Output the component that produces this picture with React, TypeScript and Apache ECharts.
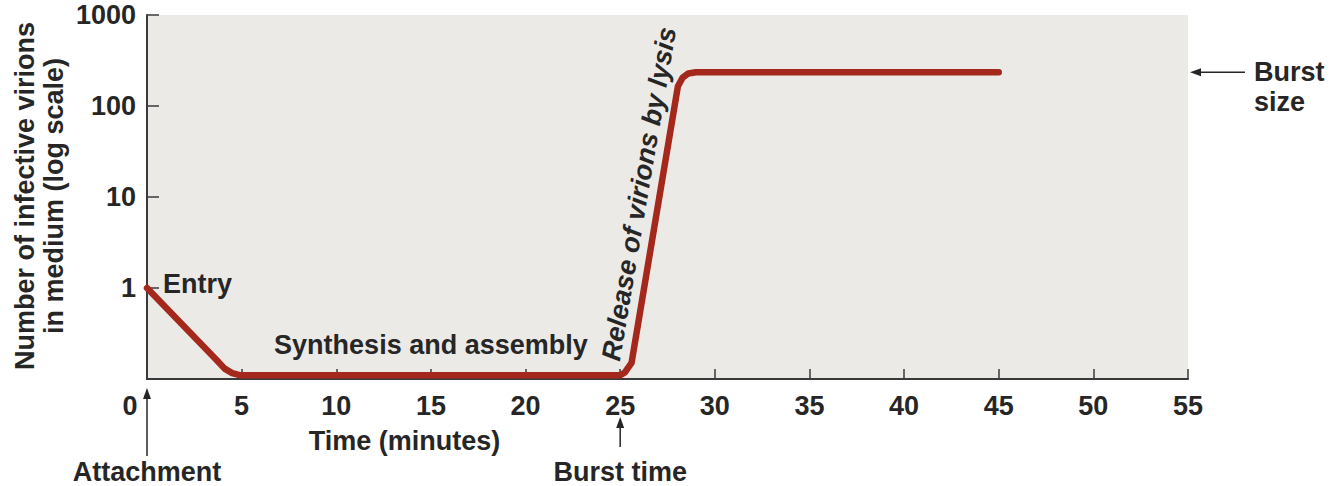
import React, { useEffect, useRef } from 'react';
import * as echarts from 'echarts';

// Time after infection (minutes) and number of infective virions in the medium
const timeMinutes = [0, 3.7, 4.1, 4.5, 4.9, 25, 25.25, 25.6, 28.05, 28.3, 28.6, 29.0, 45];
const virions = [1, 0.16, 0.13, 0.116, 0.11, 0.11, 0.118, 0.15, 165, 205, 228, 235, 235];

const xTickStep = 5;
const xMax = 55;
const yMin = 0.1;
const yMax = 1000;

const yAxisTitle = ['Number of infective virions', 'in medium (log scale)'];
const xAxisTitle = 'Time (minutes)';
const phaseLabels = {
  entry: 'Entry',
  synthesis: 'Synthesis and assembly',
  release: 'Release of virions by lysis',
  burstSize: 'Burst\nsize',
  attachment: 'Attachment',
  burstTime: 'Burst time',
};
const attachmentTime = 0;
const burstTime = 25;
const burstSizeValue = 235;

export default function App() {
  const ref = useRef<HTMLDivElement>(null);
  useEffect(() => {
    document.body.style.margin = '0';
    const chart = echarts.init(ref.current!, null, { renderer: 'svg' });
    const font = '"Liberation Sans", Arial, Helvetica, sans-serif';
    const fs = 27;
    const ink = '#262626';
    const axisInk = '#3a3a3a';
    chart.setOption({
      animation: false,
      backgroundColor: '#ffffff',
      textStyle: { fontFamily: font },
      grid: {
        left: 147,
        right: 146,
        top: 15,
        bottom: 107,
        show: true,
        backgroundColor: '#ECEAE6',
        borderWidth: 0,
      },
      xAxis: {
        type: 'value',
        min: 0,
        max: xMax,
        interval: xTickStep,
        axisLine: { show: true, lineStyle: { color: axisInk, width: 2 } },
        axisTick: { show: true, inside: true, length: 10, lineStyle: { color: axisInk, width: 1.5 } },
        splitLine: { show: false },
        axisLabel: {
          margin: 13,
          color: ink,
          fontFamily: font,
          fontWeight: 'bold',
          fontSize: fs,
          formatter: (v: number) => (v === 0 ? '' : String(v)),
        },
      },
      yAxis: {
        type: 'log',
        logBase: 10,
        min: yMin,
        max: yMax,
        axisLine: { show: true, lineStyle: { color: axisInk, width: 2 } },
        axisTick: { show: true, inside: true, length: 12, lineStyle: { color: axisInk, width: 1.5 } },
        splitLine: { show: false },
        minorTick: { show: false },
        axisLabel: {
          margin: 11,
          color: ink,
          fontFamily: font,
          fontWeight: 'bold',
          fontSize: fs,
          formatter: (v: number) => (v < 1 ? '' : String(Math.round(v))),
        },
      },
      series: [
        {
          type: 'line',
          data: timeMinutes.map((t, i) => [t, virions[i]]),
          showSymbol: false,
          symbol: 'none',
          smooth: false,
          lineStyle: { color: '#A4281C', width: 6.5, cap: 'round', join: 'round' },
          z: 5,
        },
      ],
    });

    const p = (x: number, y: number) => chart.convertToPixel({ gridIndex: 0 }, [x, y]) as number[];
    const origin = p(0, yMin);
    const axisY = origin[1];
    const attachX = p(attachmentTime, yMin)[0];
    const burstX = p(burstTime, yMin)[0];
    const rightEdge = p(xMax, yMin)[0];
    const burstY = p(xMax, burstSizeValue)[1];
    const entryPt = p(0, 1);
    const bold = (text: string, x: number, y: number, extra: any = {}) => ({
      type: 'text',
      x,
      y,
      style: {
        text,
        fill: ink,
        font: `bold ${fs}px ${font}`,
        align: 'center',
        verticalAlign: 'middle',
        ...extra,
      },
      z: 10,
    });
    const arrowUp = (x: number, y1: number, y2: number) => [
      { type: 'line', shape: { x1: x, y1, x2: x, y2: y2 + 6 }, style: { stroke: ink, lineWidth: 1.5 }, z: 10 },
      { type: 'polygon', shape: { points: [[x, y2], [x - 4, y2 + 11], [x + 4, y2 + 11]] }, style: { fill: ink }, z: 10 },
    ];
    const arrowLeft = (y: number, x1: number, x2: number) => [
      { type: 'line', shape: { x1, y1: y, x2: x2 + 6, y2: y }, style: { stroke: ink, lineWidth: 1.5 }, z: 10 },
      { type: 'polygon', shape: { points: [[x2, y], [x2 + 11, y - 4], [x2 + 11, y + 4]] }, style: { fill: ink }, z: 10 },
    ];

    chart.setOption({
      graphic: [
        {
          type: 'text',
          x: 39,
          y: 196,
          rotation: Math.PI / 2,
          style: {
            text: yAxisTitle.join('\n'),
            fill: ink,
            font: `bold ${fs}px ${font}`,
            align: 'center',
            verticalAlign: 'middle',
            lineHeight: 29,
          },
          z: 10,
        },
        bold('0', attachX - 17, axisY + 27),
        bold(xAxisTitle, p(13.6, yMin)[0], axisY + 62),
        bold(phaseLabels.attachment, attachX, axisY + 93),
        bold(phaseLabels.burstTime, burstX, axisY + 93),
        ...arrowUp(attachX, axisY + 77, axisY + 9),
        ...arrowUp(burstX, axisY + 68, axisY + 38),
        bold(phaseLabels.entry, entryPt[0] + 16, entryPt[1] - 4, { align: 'left' }),
        bold(phaseLabels.synthesis, p(15, yMin)[0], axisY - 34),
        {
          type: 'text',
          x: p(26.0, 1)[0],
          y: 194,
          rotation: (80.4 * Math.PI) / 180,
          style: {
            text: phaseLabels.release,
            fill: ink,
            font: `italic bold ${fs}px ${font}`,
            align: 'center',
            verticalAlign: 'middle',
          },
          z: 10,
        },
        ...arrowLeft(burstY, rightEdge + 57, rightEdge + 2),
        bold(phaseLabels.burstSize, rightEdge + 66, burstY + 15, { align: 'left', lineHeight: 30 }),
      ],
    });
    return () => chart.dispose();
  }, []);
  return <div ref={ref} style={{ width: 1334, height: 486 }} />;
}
